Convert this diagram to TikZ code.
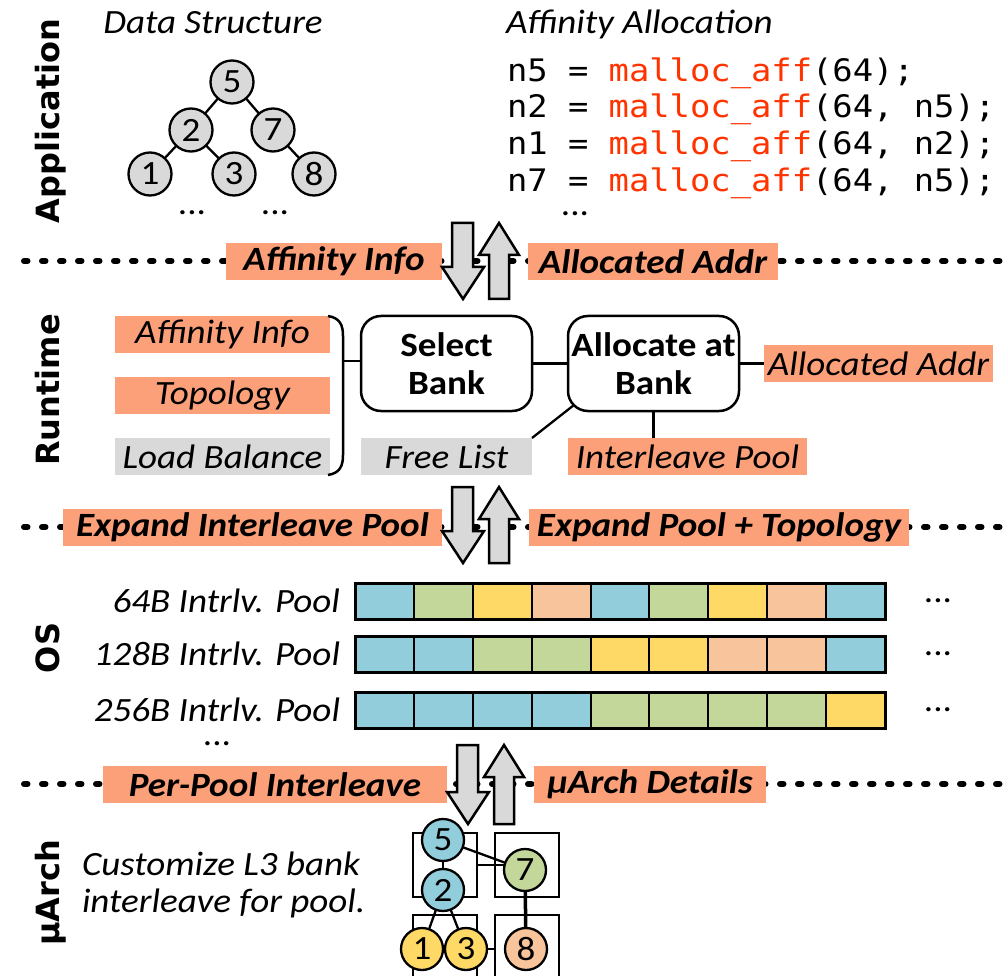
\documentclass[tikz,border=0pt]{standalone}
\usepackage{fontspec}
\setmainfont{Carlito}
\newfontfamily\sectfont{DejaVu Sans}
\newfontfamily\codefont{DejaVu Sans Mono}
\usetikzlibrary{calc}

\definecolor{cblue}{RGB}{146,205,220}
\definecolor{cgreen}{RGB}{196,215,155}
\definecolor{cyellow}{RGB}{255,217,102}
\definecolor{cpeach}{RGB}{248,196,156}
\definecolor{ctag}{RGB}{252,160,122}
\definecolor{cgray}{RGB}{217,217,217}
\definecolor{cred}{RGB}{255,51,0}

\newcommand\fsz{\fontsize{34}{38}\selectfont}
\newcommand\hs[1]{\scalebox{1.09}[1]{#1}}
% pair of block arrows: #1 x shift, #2 top, #3 length
\newcommand\updown[3]{%
  \draw[blk] ({452+#1},#2) -- ({473+#1},#2) -- ({473+#1},{#2+#3-32}) -- ({484+#1},{#2+#3-32})
    -- ({463+#1},{#2+#3}) -- ({442+#1},{#2+#3-32}) -- ({452+#1},{#2+#3-32}) -- cycle;
  \draw[blk] ({499+#1},#2) -- ({519+#1},{#2+32}) -- ({509+#1},{#2+32}) -- ({509+#1},{#2+#3})
    -- ({489+#1},{#2+#3}) -- ({489+#1},{#2+32}) -- ({479+#1},{#2+32}) -- cycle;}

\begin{document}
\begin{tikzpicture}[x=1pt,y=-1pt,
  every node/.style={inner sep=0pt,outer sep=0pt},
  txt/.style={font=\fsz},
  ell/.style={font=\fsz, anchor=base, text height=5pt, text depth=0pt},
  sect/.style={font=\sectfont\bfseries\fontsize{32}{36}\selectfont, rotate=90, anchor=base},
  tag/.style={fill=ctag, minimum height=37pt, font=\fsz\bfseries\itshape},
  note/.style={fill=#1, minimum height=37pt, font=\fsz\itshape},
  tnode/.style={circle, draw, line width=2.3pt, fill=cgray, minimum size=43pt, font=\fsz},
  bnode/.style={circle, draw, line width=2.3pt, fill=#1, minimum size=42pt, font=\fsz},
  lane/.style={line width=6pt, line cap=round, dash pattern=on 3.5pt off 14.5pt},
  blk/.style={draw, fill=cgray, line width=2.5pt, line join=miter},
  wire/.style={line width=2.3pt},
  stage/.style={draw, line width=2.5pt, rounded corners=20pt, minimum width=171pt,
    minimum height=95pt, align=center, font=\fsz\bfseries},
  bank/.style={draw, line width=2.8pt, minimum size=64pt},
  cell/.style={draw, line width=2pt},
  code/.style={anchor=base west, font=\codefont\fontsize{31}{36}\selectfont}
]
\useasboundingbox (0,0) rectangle (1004,976);

% layer names
\node[sect] (lapp) at (59,121) {Application};
\node[sect] (lrt) at (59,390) {Runtime};
\node[sect] (los) at (59,648) {OS};
\node[sect] (lua) at (59,893) {µArch};

% ---------------- application layer
\node[txt, anchor=base] (dstitle) at (213,34) {\itshape\hs{Data Structure}};
\node[tnode] (t5) at (232,82) {\hs{5}};
\node[tnode] (t2) at (191,130) {\hs{2}};
\node[tnode] (t7) at (273,130) {\hs{7}};
\node[tnode] (t1) at (150,174) {\hs{1}};
\node[tnode] (t3) at (234,174) {\hs{3}};
\node[tnode] (t8) at (314,174) {\hs{8}};
\draw[wire] (t5) -- (t2);
\draw[wire] (t5) -- (t7);
\draw[wire] (t2) -- (t1);
\draw[wire] (t2) -- (t3);
\draw[wire] (t7) -- (t8);
\node[ell] (tdots1) at (192,215) {\hs{...}};
\node[ell] (tdots2) at (275,215) {\hs{...}};

\node[txt, anchor=base west] (aatitle) at (506,34) {\itshape\hs{Affinity Allocation}};
\node[code] (c1) at (507,82) {\hs{n5 = \textcolor{cred}{malloc\_aff}(64);}};
\node[code] (c2) at (507,118) {\hs{n2 = \textcolor{cred}{malloc\_aff}(64, n5);}};
\node[code] (c3) at (507,155) {\hs{n1 = \textcolor{cred}{malloc\_aff}(64, n2);}};
\node[code] (c4) at (507,192) {\hs{n7 = \textcolor{cred}{malloc\_aff}(64, n5);}};
\node[ell] (cdots) at (575,216) {\hs{...}};

% ---------------- layer boundaries
\draw[lane] (24,261) -- (1000,261);
\draw[lane] (24,527) -- (1000,527);
\draw[lane] (24,784) -- (1000,784);

\node[tag, minimum width=216pt] (t1l) at (334,261.5) {\hs{Affinity Info}};
\node[tag, minimum width=250pt] (t1r) at (653,261.5) {\hs{Allocated Addr}};
\node[tag, minimum width=379pt] (t2l) at (252.5,527.5) {\hs{Expand Interleave Pool}};
\node[tag, minimum width=380pt] (t2r) at (719,527.5) {\hs{Expand Pool + Topology}};
\node[tag, minimum width=344pt] (t3l) at (275,784.5) {\hs{Per-Pool Interleave}};
\node[tag, minimum width=232pt] (t3r) at (650,784.5) {\hs{µArch Details}};

\updown{0}{223}{76}
\updown{0}{487}{76}
\updown{5}{745}{79}

% ---------------- runtime layer
\node[note=ctag, minimum width=215pt] (rai) at (222.5,334.5) {\hs{Affinity Info}};
\node[note=ctag, minimum width=215pt] (rtp) at (222.5,395.5) {\hs{Topology}};
\node[note=cgray, minimum width=215pt] (rlb) at (222.5,456.5) {\hs{Load Balance}};
\node[stage] (sel) at (446.5,363.5) {\hs{Select}\\\hs{Bank}};
\node[stage] (alc) at (653.5,363.5) {\hs{Allocate at}\\\hs{Bank}};
\node[note=ctag, minimum width=229pt] (raa) at (878.5,363.5) {\hs{Allocated Addr}};
\node[note=cgray, minimum width=171pt] (rfl) at (446.5,456.5) {\hs{Free List}};
\node[note=ctag, minimum width=239pt] (rip) at (687.5,456.5) {\hs{Interleave Pool}};

\draw[line width=2.5pt] (328,316) .. controls (340,318) and (343,325) .. (343,336)
  -- (343,455) .. controls (343,466) and (340,473) .. (328,475);
\coordinate (brk) at (343,361);
\draw[wire] (brk) -- (brk -| sel.west);
\draw[wire] (sel.east) -- (alc.west);
\draw[wire] (alc.east) -- (raa.west);
\draw[wire] (rfl.north east) -- ($(alc.south west)+(6,-6)$);
\draw[wire] (alc.south) -- (alc.south |- rip.north);

% ---------------- OS layer
\foreach \c [count=\i from 0] in {cblue,cgreen,cyellow,cpeach,cblue,cgreen,cyellow,cpeach,cblue}
  \draw[cell, fill=\c] ({355+\i*58.89},583) rectangle ++(58.89,36);
\foreach \c [count=\i from 0] in {cblue,cblue,cgreen,cgreen,cyellow,cyellow,cpeach,cpeach,cblue}
  \draw[cell, fill=\c] ({355+\i*58.89},636) rectangle ++(58.89,36);
\foreach \c [count=\i from 0] in {cblue,cblue,cblue,cblue,cgreen,cgreen,cgreen,cgreen,cyellow}
  \draw[cell, fill=\c] ({355+\i*58.89},692) rectangle ++(58.89,36);
\foreach \yy in {583,636,692}
  \draw[line width=3pt] (355,\yy) rectangle ++(530,36);

\node[txt, anchor=base east] (p64) at (340,612) {\itshape\hs{64B Intrlv. Pool}};
\node[txt, anchor=base east] (p128) at (340,665) {\itshape\hs{128B Intrlv. Pool}};
\node[txt, anchor=base east] (p256) at (340,721) {\itshape\hs{256B Intrlv. Pool}};
\node[ell] (pd1) at (938,602) {\hs{...}};
\node[ell] (pd2) at (938,655) {\hs{...}};
\node[ell] (pd3) at (938,711) {\hs{...}};
\node[ell] (pd4) at (217,745) {\hs{...}};

% ---------------- microarchitecture layer
\node[txt, anchor=base west] (u1) at (82,875) {\itshape\hs{Customize L3 bank}};
\node[txt, anchor=base west] (u2) at (82,912) {\itshape\hs{interleave for pool.}};

\node[bank] (bA) at (445,865) {};
\node[bank] (bB) at (527,865) {};
\node[bank] (bC) at (445,947) {};
\node[bank] (bD) at (527,947) {};

\node[bnode=cblue] (m5) at (443,840) {\hs{5}};
\node[bnode=cblue] (m2) at (443,890) {\hs{2}};
\node[bnode=cgreen] (m7) at (525,870) {\hs{7}};
\node[bnode=cyellow] (m1) at (422,949) {\hs{1}};
\node[bnode=cyellow] (m3) at (466,949) {\hs{3}};
\node[bnode=cpeach] (m8) at (526,949) {\hs{8}};

\draw[wire] (m5) -- (m2);
\draw[wire] (m5) -- (m7);
\draw[wire] (m2) -- (m1);
\draw[wire] (m2) -- (m3);
\draw[line width=3.5pt] (m7) -- (m8);
\draw[wire] (bA.east) -- (bA.east -| m7.west);
\draw[wire] (m3.east) -- (m3.east -| bD.west);
\end{tikzpicture}
\end{document}
